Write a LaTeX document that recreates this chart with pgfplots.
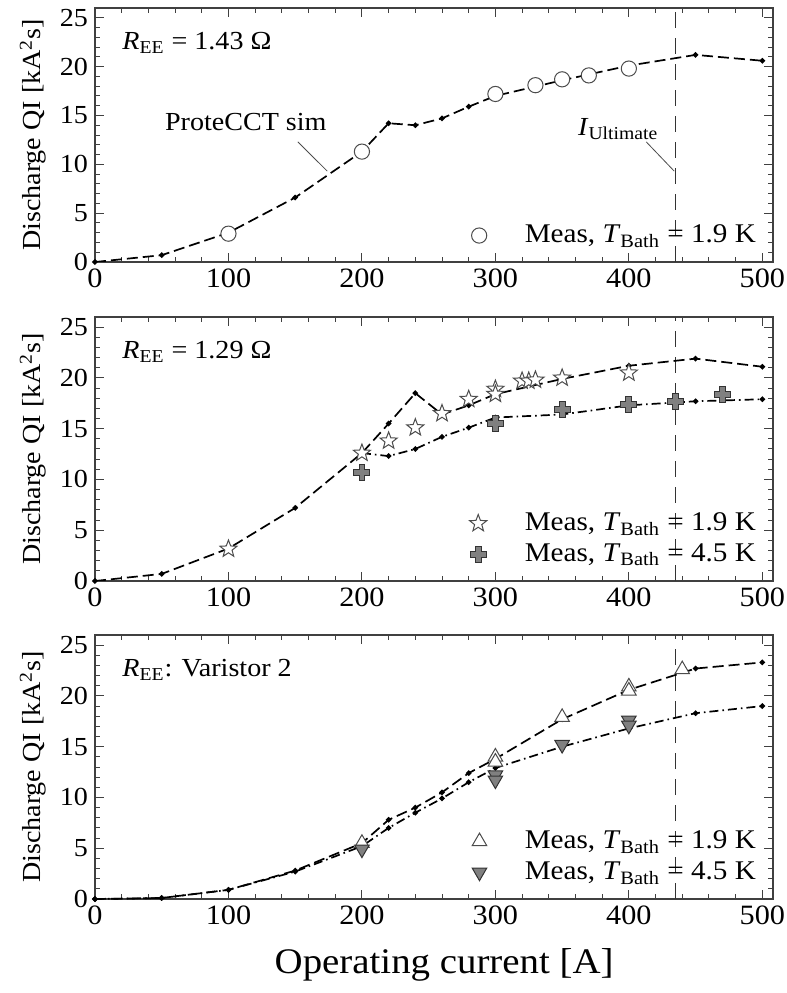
\documentclass[border=0pt]{standalone}
\usepackage{fontspec}
\setmainfont{Liberation Serif}[FakeStretch=1.08]
\usepackage{pgfplots}
\pgfplotsset{compat=1.18}

% thick plus marker
\pgfdeclareplotmark{fatplus}{%
  \pgfpathmoveto{\pgfpoint{-0.36\pgfplotmarksize}{\pgfplotmarksize}}%
  \pgfpathlineto{\pgfpoint{0.36\pgfplotmarksize}{\pgfplotmarksize}}%
  \pgfpathlineto{\pgfpoint{0.36\pgfplotmarksize}{0.36\pgfplotmarksize}}%
  \pgfpathlineto{\pgfpoint{\pgfplotmarksize}{0.36\pgfplotmarksize}}%
  \pgfpathlineto{\pgfpoint{\pgfplotmarksize}{-0.36\pgfplotmarksize}}%
  \pgfpathlineto{\pgfpoint{0.36\pgfplotmarksize}{-0.36\pgfplotmarksize}}%
  \pgfpathlineto{\pgfpoint{0.36\pgfplotmarksize}{-\pgfplotmarksize}}%
  \pgfpathlineto{\pgfpoint{-0.36\pgfplotmarksize}{-\pgfplotmarksize}}%
  \pgfpathlineto{\pgfpoint{-0.36\pgfplotmarksize}{-0.36\pgfplotmarksize}}%
  \pgfpathlineto{\pgfpoint{-\pgfplotmarksize}{-0.36\pgfplotmarksize}}%
  \pgfpathlineto{\pgfpoint{-\pgfplotmarksize}{0.36\pgfplotmarksize}}%
  \pgfpathlineto{\pgfpoint{-0.36\pgfplotmarksize}{0.36\pgfplotmarksize}}%
  \pgfpathclose
  \pgfusepathqfillstroke
}
% five-pointed outline star
\pgfdeclareplotmark{fivestar}{%
  \pgfpathmoveto{\pgfpointpolar{90}{\pgfplotmarksize}}%
  \pgfpathlineto{\pgfpointpolar{126}{0.42\pgfplotmarksize}}%
  \pgfpathlineto{\pgfpointpolar{162}{\pgfplotmarksize}}%
  \pgfpathlineto{\pgfpointpolar{198}{0.42\pgfplotmarksize}}%
  \pgfpathlineto{\pgfpointpolar{234}{\pgfplotmarksize}}%
  \pgfpathlineto{\pgfpointpolar{270}{0.42\pgfplotmarksize}}%
  \pgfpathlineto{\pgfpointpolar{306}{\pgfplotmarksize}}%
  \pgfpathlineto{\pgfpointpolar{342}{0.42\pgfplotmarksize}}%
  \pgfpathlineto{\pgfpointpolar{18}{\pgfplotmarksize}}%
  \pgfpathlineto{\pgfpointpolar{54}{0.42\pgfplotmarksize}}%
  \pgfpathclose
  \pgfusepathqfillstroke
}

\pgfplotsset{
  panel/.style={
    scale only axis, width=339pt,
    xmin=0, xmax=508, ymin=0, ymax=26,
    xtick={0,100,...,500}, ytick={0,5,...,25},
    minor x tick num=4, minor y tick num=4,
    tick align=inside, tick pos=both,
    major tick length=4.5pt, minor tick length=2.5pt,
    axis line style={black!75, line width=0.6pt},
    every tick/.style={black!75, line width=0.5pt},
    xticklabel style={font=\fontsize{14}{16}\selectfont},
    yticklabel style={font=\fontsize{13}{15}\selectfont},
    /pgf/number format/assume math mode=true,
    ylabel={Discharge QI [kA\textsuperscript{2}s]},
    ylabel style={font=\fontsize{13}{15}\selectfont},
    legend style={draw=none, fill=none, at={(0.99,0.03)}, anchor=south east,
      font=\fontsize{13.5}{15}\selectfont, row sep=1pt,
      /tikz/every odd column/.append style={column sep=17pt}},
    legend cell align=left,
  },
  sim19/.style={black, line width=0.85pt, dash pattern=on 5.5pt off 2.5pt,
    mark=*, mark size=0.9pt, mark options={solid}, forget plot},
  sim45/.style={black, line width=0.85pt, dash pattern=on 4.5pt off 2pt on 0.8pt off 2pt,
    mark=*, mark size=0.9pt, mark options={solid}, forget plot},
  ult/.style={black!80, line width=0.5pt, dash pattern=on 8pt off 5pt, forget plot},
}

\begin{document}
\begin{tikzpicture}

% ---------- panel 1 ----------
\begin{axis}[panel, height=127pt, at={(0,318.5pt)}, anchor=south west]
  \addplot[ult] coordinates {(435,0) (435,26)};
  \addplot[sim19] coordinates {
    (0,0) (50,0.7) (100,3.0) (150,6.6) (200,11.3) (220,14.2) (240,14.0)
    (260,14.7) (280,15.9) (300,17.0) (350,18.6) (400,20.1) (450,21.2) (500,20.6)
  };
  \addplot[only marks, mark=*, mark size=3.8pt, mark options={draw=black!70, fill=white, line width=0.5pt}]
    coordinates {(100,2.9) (200,11.3) (300,17.2) (330,18.1) (350,18.7) (370,19.1) (400,19.8)};
  \addlegendentry{Meas, \textit{T}\textsubscript{Bath} = 1.9 K}
  \node[anchor=west, font=\fontsize{13}{15}\selectfont] at (rel axis cs:0.03,0.862)
    {\textit{R}\textsubscript{EE} = 1.43 Ω};
  \node[font=\fontsize{13}{15}\selectfont] at (axis cs:113,14.3) {ProteCCT sim};
  \draw[black!70, line width=0.4pt] (axis cs:152,12.3) -- (axis cs:174,9.3);
  \node[font=\fontsize{13}{15}\selectfont] at (axis cs:392,13.6) {\textit{I}\textsubscript{Ultimate}};
  \draw[black!70, line width=0.4pt] (axis cs:413,12.3) -- (axis cs:434,9.3);
\end{axis}

% ---------- panel 2 ----------
\begin{axis}[panel, height=132pt, at={(0,159pt)}, anchor=south west]
  \addplot[ult] coordinates {(435,0) (435,26)};
  \addplot[sim19] coordinates {
    (0,0) (50,0.7) (100,3.2) (150,7.2) (200,12.6) (220,15.5) (240,18.5)
    (260,16.4) (280,17.3) (300,18.4) (350,19.9) (400,21.2) (450,21.9) (500,21.1)
  };
  \addplot[sim45] coordinates {
    (200,12.6) (220,12.3) (240,13.0) (260,14.2) (280,15.1) (300,16.1)
    (350,16.4) (400,17.3) (450,17.7) (500,17.9)
  };
  \addplot[only marks, mark=fivestar, mark size=4.5pt, mark options={draw=black!70, fill=white, line width=0.5pt}]
    coordinates {(100,3.15) (200,12.6) (220,13.8) (240,15.1) (260,16.5) (280,17.9)
      (300,18.9) (300,18.4) (320,19.7) (325,19.7) (330,19.8) (350,20.0) (400,20.5)};
  \addlegendentry{Meas, \textit{T}\textsubscript{Bath} = 1.9 K}
  \addplot[only marks, mark=fatplus, mark size=4pt, mark options={draw=black!80, fill=black!50, line width=0.5pt}]
    coordinates {(200,10.7) (300,15.5) (350,16.9) (400,17.4) (435,17.7) (470,18.4)};
  \addlegendentry{Meas, \textit{T}\textsubscript{Bath} = 4.5 K}
  \node[anchor=west, font=\fontsize{13}{15}\selectfont] at (rel axis cs:0.03,0.867)
    {\textit{R}\textsubscript{EE} = 1.29 Ω};
\end{axis}

% ---------- panel 3 ----------
\begin{axis}[panel, height=132pt, at={(0,0)}, anchor=south west,
    xlabel={Operating current [A]},
    xlabel style={font=\fontsize{18}{20}\selectfont, at={(axis description cs:0.515,-0.25)}, anchor=center}]
  \addplot[ult] coordinates {(435,0) (435,26)};
  \addplot[sim19] coordinates {
    (0,0) (50,0.1) (100,0.9) (150,2.8) (200,5.5) (220,7.8) (240,9.0)
    (260,10.5) (280,12.4) (300,13.8) (350,17.7) (400,20.6) (450,22.7) (500,23.3)
  };
  \addplot[sim45] coordinates {
    (0,0) (50,0.1) (100,0.9) (150,2.7) (200,5.2) (220,7.0) (240,8.5)
    (260,9.9) (280,11.5) (300,12.9) (350,15.0) (400,16.8) (450,18.3) (500,19.0)
  };
  \addplot[only marks, mark=triangle*, mark size=4.2pt, mark options={draw=black!70, fill=white, line width=0.5pt}]
    coordinates {(200,5.5) (300,14.0) (300,13.5) (350,17.9) (400,20.9) (400,20.5) (440,22.6)};
  \addlegendentry{Meas, \textit{T}\textsubscript{Bath} = 1.9 K}
  \addplot[only marks, mark=triangle*, mark size=4.2pt, mark options={draw=black!80, fill=black!50, line width=0.5pt, rotate=180}]
    coordinates {(200,4.9) (300,12.2) (300,11.7) (350,15.2) (400,17.6) (400,17.1)};
  \addlegendentry{Meas, \textit{T}\textsubscript{Bath} = 4.5 K}
  \node[anchor=west, font=\fontsize{13}{15}\selectfont] at (rel axis cs:0.03,0.867)
    {\textit{R}\textsubscript{EE}: Varistor 2};
\end{axis}

\pgfresetboundingbox
\path (-47.5pt,-47pt) rectangle (346pt,449.5pt);
\end{tikzpicture}
\end{document}
